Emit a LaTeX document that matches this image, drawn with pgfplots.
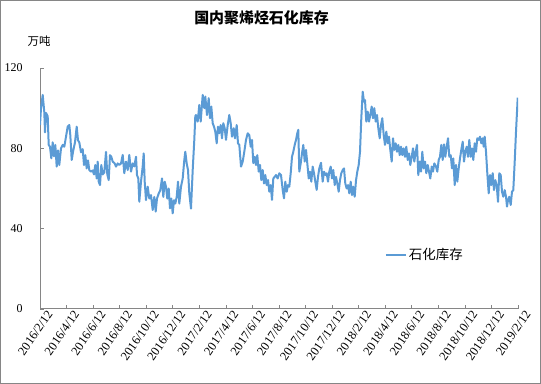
\documentclass[border=0pt]{standalone}
\usepackage{fontspec}
\setmainfont{Liberation Serif}
\newfontfamily\cjk{Noto Sans CJK SC}
\usepackage{pgfplots}
\pgfplotsset{compat=1.18}
\definecolor{lineblue}{RGB}{91,155,213}
\definecolor{axgray}{RGB}{134,134,134}
\pgfplotstableread{
x y
0 91.6
1 100
2.7 106.6
4.3 98
5 88
6 97.6
7.7 96
8.7 81.7
10 80.8
11.3 75
12.7 83
14 76
15.3 81.7
16.7 70.9
18 79
19.3 71.7
21 80
22.7 81.7
24.3 80.8
26 85.8
27.7 90.8
29.3 91.6
30.3 86.6
31.7 74.2
33.3 79
35 83
36.7 90.8
38 84
39.3 83
41 78
42.7 79.6
44 71.7
45.3 76.6
46.7 70
48 74
49.3 69.2
51 68.4
52.7 69
54 67
55.3 71.7
56.7 65
57.7 73.4
58.7 63.4
60 61.7
61.3 71.7
62.7 67
64.3 68
66 78.2
67.3 67
68.7 64.2
70 76.6
71.3 75.8
72.7 73.4
74.7 72.5
76 70.9
77.7 72.5
79.3 71.7
81 72.5
82.7 76.7
84.3 67.6
86 73.4
87.7 69.2
89.3 76.7
91 68.4
92.7 72.5
94.3 71
96 75.8
97 66.7
98.3 65
99.3 53.4
101 63.4
102.7 71
103.7 77.5
104.7 63.4
106 54.2
107.7 60.9
109.3 55
111 56.7
112.7 49.3
114.3 55.8
115.7 48.5
117 55
118.7 57.5
120.3 59.2
122 65
123.3 55.8
124.7 63.4
126 60.9
127.3 55
128.7 60
130 50.1
131.3 55
132.7 47.6
134 54.2
135.3 52.5
136.7 55.8
138 63.4
139.3 52.5
141 60.9
142.7 65
144.3 74.2
145.3 78.3
146.7 72.5
148 69.2
149.3 57.6
151 50
152.7 69.2
154.3 84.2
155.3 96
156 96.6
157.7 93.3
159.3 101.6
160.7 93.3
162.7 106.6
164.3 100
165.3 105.8
167 96.6
168.7 105
170 95
171.3 100.8
172.7 92.5
174 90.8
175.3 88.3
176.7 82.5
178 90.8
179.3 87.5
180.7 91.6
182 85
183.3 92.5
184.7 90
186 84.2
187.7 91.6
189.3 96.6
190.7 92.5
192 85.8
193.7 90
195 85
196.7 91.6
198 82.5
199.3 81.7
201 70.9
202.7 73.4
204.3 78.3
206 84.2
207.7 87.5
209.3 86.6
210.7 80.8
212 84.2
213.3 72.6
214.7 75.8
216 71.7
217.3 76.6
218.7 68.4
220 71.7
221.3 64.2
222.7 69.2
224 62.5
225.3 66.7
226.7 61.7
228 64.2
229.3 58.4
230.7 61.7
232 54.3
233.3 65
234.7 65.8
236 66.7
237.7 65
239.3 67.6
241 66.7
242.7 59.3
244 55.1
245.3 63.4
246.7 58.4
248 61.7
249.3 60.9
250.7 67.6
252 75.8
253.3 78.3
254.7 81.7
256 84.2
257.3 87.5
258.3 89.2
259.3 68.4
260.7 72.5
262 77.5
263.3 81.7
264.7 73.4
266 79.2
267.3 72.5
268.7 65
270 68.4
271.3 63.4
272.7 70.9
274 67.6
275.3 63.4
276.7 59.3
278 65.8
279.3 70
281 72.8
282.7 63.4
284 68.4
285.3 66.7
286.7 67.6
288 63.4
289.3 68.4
290.7 70.9
292 65
293.3 69.2
294.7 61.7
296 65.8
297.3 62.5
298.7 58.4
300 64.2
301.3 67.6
302.7 69.2
304 70
305.3 62.5
306.7 60
308 61.7
309.3 57.6
310.7 63.4
312 56.7
313.3 60.9
314.7 55.9
316 64
317.3 68.4
318.7 71.7
320 78.3
321.3 95
322.7 108.2
324 103.2
325 104
326.3 93.3
327.7 98.3
329 93.3
330.3 96.6
331.7 100.8
333 95
334.3 100
335.7 93.3
337 96.6
338.3 90
339.7 85
341 91.6
342.3 95
343.7 86.6
345 81.7
346.3 88.3
347.7 82.5
349 85.8
350.3 79.2
351.7 73.4
353 85
354.3 79.2
355.7 82.5
357 78.3
358.3 81.7
359.7 76.6
361 80.8
362.3 76.6
363.7 80
365 75.8
366.3 80.8
367.7 74.2
369 77.5
370.3 71.7
371.7 75.8
373 80
374.3 73.4
375.7 78.3
377 81.7
378.3 66.7
379.7 73.4
381 68.4
382.3 78.3
383.7 70
385 73.4
386.3 67.6
387.7 71.7
389 68.4
390.3 65
391.7 70.9
393 68.4
394.3 72.5
396 71
397.3 68.4
398.7 74.2
400 75.8
401.3 81.7
402.7 74.2
404 82
405.3 75.8
406.7 80.8
408 85
409.3 75.8
410.7 76.6
412 70
413.3 75
414.7 61.7
416 71.7
417.3 63.4
418.7 70
420 75
421.3 79.2
422.7 83.3
424 73.4
425.3 78.3
426.7 80.8
428 75.8
429.3 84.2
430.7 75.8
432 80
433.3 74.2
434.7 82.5
436 78.3
437.3 85
438.7 84.2
440 85.8
441.3 82.5
442.7 85
443.7 80.8
444.7 85.8
446 78.3
447.3 67.6
448.7 57.6
450 66.7
451.3 61.7
452.7 67.6
454 59.2
455.3 64.2
456.7 61.7
458 53.4
459.3 67.6
460.7 66.7
462 58.4
463.3 55.9
464.7 59.2
466 55.9
467 51
468 54.2
469.3 55.9
470.7 51.8
472 58.4
473.3 59.2
474.7 73.4
476 88.3
477.7 105.2
}\stocks
\begin{document}
\begin{tikzpicture}
\draw[axgray, line width=1bp] (0.5bp,0.5bp) rectangle (540.5bp,383.5bp);
\node[font=\cjk\bfseries\fontsize{15}{18}\selectfont] at (261.5bp,366bp) {国内聚烯烃石化库存};
\node[font=\cjk\fontsize{11.5}{14}\selectfont] at (39bp,343bp) {万吨};
\begin{axis}[
  at={(40bp,75bp)}, anchor=south west,
  scale only axis, width=478bp, height=241bp,
  xmin=0, xmax=478, ymin=0, ymax=120,
  axis x line*=bottom, axis y line*=left,
  axis line style={-, draw=axgray, line width=1bp},
  tick align=inside, major tick length=4bp,
  tick style={axgray, line width=0.75bp},
  ytick={0,40,80,120},
  /pgf/number format/assume math mode=true,
  yticklabel style={font=\fontsize{12}{14}\selectfont, anchor=east, xshift=-14bp},
  xtick={0,26.556,53.111,79.667,106.222,132.778,159.333,185.889,212.444,239,265.556,292.111,318.667,345.222,371.778,398.333,424.889,451.444,478},
  xticklabels={2016/2/12,2016/4/12,2016/6/12,2016/8/12,2016/10/12,2016/12/12,2017/2/12,2017/4/12,2017/6/12,2017/8/12,2017/10/12,2017/12/12,2018/2/12,2018/4/12,2018/6/12,2018/8/12,2018/10/12,2018/12/12,2019/2/12},
  xticklabel style={font=\fontsize{12.5}{14}\selectfont, rotate=55, anchor=east, inner sep=0pt, xshift=3bp, yshift=-10bp},
  legend style={at={(0.715,0.224)}, anchor=west, draw=none, fill=none, font=\cjk\fontsize{13.5}{16}\selectfont},
  legend cell align=left,
  legend image code/.code={\draw[#1] (0bp,0bp) -- (20bp,0bp);},
]
\addplot[color=lineblue, line width=2bp, line join=round] table[x=x,y=y] {\stocks};
\addlegendentry{石化库存}
\end{axis}
\end{tikzpicture}
\end{document}
